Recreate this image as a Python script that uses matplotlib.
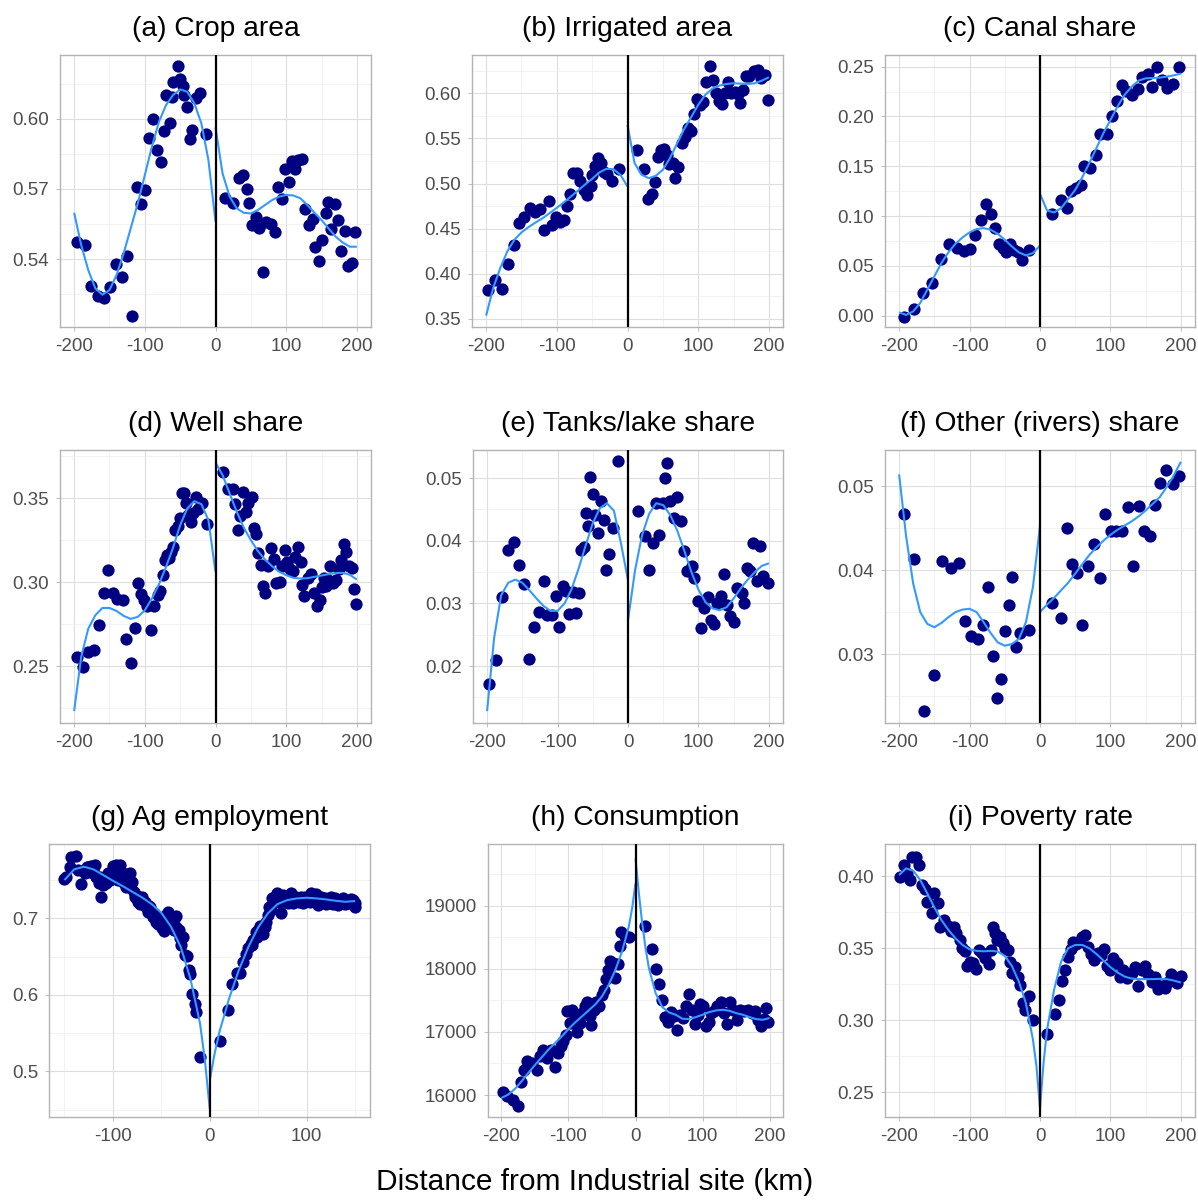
import matplotlib
matplotlib.use("Agg")
import matplotlib.pyplot as plt
import numpy as np

plt.rcParams['font.family'] = ['Liberation Sans', 'DejaVu Sans']

# ---------------- data ----------------
fit_xl = [-200, -190, -180, -170, -160, -150, -140, -130, -120, -110, -100,
          -90, -80, -70, -60, -50, -40, -30, -20, -10, 0]
fit_xr = [0, 10, 20, 30, 40, 50, 60, 70, 80, 90, 100,
          110, 120, 130, 140, 150, 160, 170, 180, 190, 200]

# (a) Crop area
a_x = [-195.3, -184, -176.5, -166.6, -157.2, -149.2, -140.7, -132.2, -125.6, -118.1,
       -111.5, -104.9, -99.3, -94.1, -88, -82.8, -77.6, -72.9, -69.6, -64.5,
       -61.2, -59.8, -53.6, -49.9, -46.1, -44.2, -40, -36.7, -32.9, -27.8,
       -22.1, -14.1,
       14.1, 24.5, 32.9, 38.6, 44.2, 48, 52.2, 56.9, 61.6, 67.8,
       72, 78.1, 83.8, 88, 93.6, 98.4, 104, 108.2, 112.5, 116.7,
       122.8, 127.1, 132.2, 137.4, 140.7, 146.4, 150.6, 156.2, 159.1, 163.8,
       169, 173.2, 177.4, 182.6, 187.3, 192.5, 197.6]
a_y = [0.5473, 0.546, 0.5285, 0.5242, 0.5236, 0.5279, 0.5379, 0.5323, 0.5412, 0.5155,
       0.5708, 0.5635, 0.5695, 0.5917, 0.5999, 0.5866, 0.5816, 0.5947, 0.610, 0.5981,
       0.6091, 0.6157, 0.6224, 0.6168, 0.6141, 0.610, 0.6051, 0.5913, 0.595, 0.6087,
       0.6108, 0.5933,
       0.5661, 0.5638, 0.5748, 0.5759, 0.570, 0.5638, 0.5544, 0.558, 0.5534, 0.5343,
       0.5557, 0.5548, 0.5514, 0.5706, 0.5658, 0.5783, 0.5729, 0.582, 0.5783, 0.5823,
       0.5826, 0.5614, 0.5545, 0.557, 0.5451, 0.5394, 0.548, 0.5595, 0.5642, 0.5528,
       0.5634, 0.5566, 0.5436, 0.552, 0.537, 0.5384, 0.5517]
a_fit_l = [0.5598, 0.546, 0.5353, 0.5275, 0.5248, 0.5268, 0.5332, 0.5424, 0.5531, 0.5638,
           0.5759, 0.588, 0.5987, 0.6058, 0.6101, 0.6125, 0.6115, 0.6066, 0.598, 0.5823, 0.556]
a_fit_r = [0.5963, 0.5766, 0.5667, 0.5617, 0.5598, 0.5595, 0.561, 0.5631, 0.5652, 0.5667,
           0.5674, 0.5672, 0.566, 0.5631, 0.5598, 0.5567, 0.5531, 0.5496, 0.5471, 0.5453, 0.5453]

# (b) Irrigated area
b_x = [-197.2, -187.2, -178.2, -169.7, -160.7, -153.6, -146, -138.5, -130.9, -124.3,
       -117.6, -111, -106.3, -101.1, -94.9, -89.2, -85, -80.7, -76.4, -71.2,
       -67.9, -62.2, -57, -52.3, -50.9, -46.2, -41.9, -38.1, -33.8, -28.6,
       -21.5, -12.5,
       14, 23.9, 29.6, 35.3, 39.5, 43.8, 48, 52.3, 55.6, 59.4,
       63.7, 67, 71.7, 76.5, 80.7, 85, 90.2, 93.5, 98.2, 102.5,
       106.7, 111.5, 116.7, 120.5, 125.2, 129, 133.7, 138.5, 142.7, 147,
       151.7, 156.5, 159.3, 163.6, 167.3, 172.5, 178.7, 185.3, 189.1, 194.3,
       199]
b_y = [0.3825, 0.3935, 0.3836, 0.4108, 0.4315, 0.4562, 0.4625, 0.4724, 0.468, 0.4717,
       0.4481, 0.4802, 0.4543, 0.4628, 0.4573, 0.4599, 0.4746, 0.4886, 0.5122, 0.5122,
       0.5023, 0.4931, 0.4875, 0.4978, 0.5097, 0.5196, 0.5281, 0.5233, 0.5133, 0.5104,
       0.5023, 0.5159,
       0.5369, 0.5156, 0.4831, 0.4886, 0.5012, 0.5299, 0.5373, 0.5388, 0.5318, 0.5218,
       0.5233, 0.506, 0.5181, 0.5447, 0.5513, 0.5613, 0.5587, 0.5771, 0.5941, 0.5871,
       0.5908, 0.6125, 0.6302, 0.6147, 0.60, 0.5915, 0.5878, 0.60, 0.6129, 0.60,
       0.6011, 0.5993, 0.5889, 0.6037, 0.6192, 0.6192, 0.6251, 0.6258, 0.6166, 0.6203,
       0.5926]
b_fit_l = [0.3537, 0.3843, 0.4064, 0.4249, 0.4378, 0.4459, 0.4518, 0.4569, 0.4617, 0.4673,
           0.4732, 0.4791, 0.4857, 0.4923, 0.499, 0.5052, 0.5122, 0.5163, 0.5159, 0.5097, 0.4967]
b_fit_r = [0.565, 0.5226, 0.5097, 0.506, 0.5086, 0.5152, 0.5281, 0.544, 0.5602, 0.5735,
           0.5871, 0.5982, 0.6052, 0.6085, 0.6103, 0.6111, 0.6107, 0.6103, 0.6111, 0.614, 0.6177]

# (c) Canal share
c_x = [-192.9, -179.2, -166, -152.8, -141, -129.2, -118.3, -108.4, -99.4, -92.3,
       -84.3, -76.7, -70.1, -63.5, -58.3, -52.7, -48.4, -43.2, -37.1, -30.9,
       -26.2, -15.8,
       16.8, 29.5, 38, 43.7, 51.2, 58.3, 63, 71.6, 79.1, 85.2,
       95.2, 102.2, 108.9, 116, 122.5, 130.1, 138.6, 144.3, 152.8, 159.4,
       166.5, 172.6, 179.7, 188.2, 197.2]
c_y = [-0.001, 0.0067, 0.0227, 0.0328, 0.0571, 0.0719, 0.0675, 0.0645, 0.0672, 0.0812,
       0.0959, 0.1116, 0.1019, 0.0879, 0.0722, 0.0678, 0.0638, 0.0715, 0.0662, 0.0638,
       0.0562, 0.0662,
       0.1023, 0.1163, 0.108, 0.1247, 0.128, 0.1307, 0.1507, 0.1487, 0.1614, 0.1825,
       0.1825, 0.2005, 0.2159, 0.2313, 0.2259, 0.2216, 0.2276, 0.24, 0.2423, 0.2299,
       0.2493, 0.2366, 0.2289, 0.2326, 0.25]
c_fit_l = [0.0033, 0.0007, 0.0043, 0.0127, 0.0261, 0.0394, 0.0528, 0.0635, 0.0722, 0.0785,
           0.0836, 0.0869, 0.0879, 0.0862, 0.0822, 0.0762, 0.0695, 0.0635, 0.0605, 0.0628, 0.0702]
c_fit_r = [0.1223, 0.1056, 0.1036, 0.108, 0.117, 0.1263, 0.139, 0.1531, 0.1681, 0.1832,
           0.1965, 0.2099, 0.2216, 0.2299, 0.236, 0.2383, 0.2386, 0.239, 0.24, 0.2413, 0.243]

# (d) Well share
d_x = [-196.2, -187.3, -179.8, -171.8, -165.2, -158.1, -152, -144.5, -138.8, -131.3,
       -126.1, -120, -114.4, -110.1, -104.9, -100.7, -96.9, -91.8, -87, -81.4,
       -78.1, -74.8, -72, -68.2, -65.4, -62.6, -59.8, -57, -53.2, -50.4,
       -47.5, -44.2, -41.9, -38.6, -35.3, -31.5, -28.2, -24.9, -19.3, -12.7,
       10.8, 17.9, 24.9, 28.2, 32.5, 35.3, 39.5, 43.8, 46.6, 51.3,
       54.1, 57, 60.2, 64, 67.3, 70.6, 74.8, 78.6, 82.4, 86.1,
       90.8, 94.6, 97.9, 101.2, 104.9, 109.2, 112.9, 116.2, 120.5, 122.8,
       125.2, 130.4, 135.1, 139.8, 144, 147.3, 150.1, 153.9, 156.7, 159.5,
       162.4, 166.1, 169.9, 174.6, 177.4, 181.2, 184.9, 188.7, 192.5, 195.3,
       198.1]
d_y = [0.2556, 0.2496, 0.2583, 0.2595, 0.2748, 0.2933, 0.3073, 0.2937, 0.2903, 0.2897,
       0.2663, 0.252, 0.273, 0.2996, 0.2931, 0.2893, 0.2857, 0.2718, 0.2859, 0.2923,
       0.2948, 0.3042, 0.3135, 0.3161, 0.3141, 0.3179, 0.321, 0.3313, 0.3333, 0.3383,
       0.3532, 0.3532, 0.3468, 0.3399, 0.3359, 0.3413, 0.3504, 0.3438, 0.3472, 0.3345,
       0.3653, 0.3552, 0.3556, 0.3462, 0.3313, 0.3393, 0.3538, 0.3419, 0.3468, 0.3504,
       0.3325, 0.3286, 0.3171, 0.3101, 0.2978, 0.2937, 0.3095, 0.3206, 0.3139, 0.2996,
       0.3002, 0.3095, 0.319, 0.3119, 0.3081, 0.3067, 0.3151, 0.321, 0.3121, 0.2982,
       0.2919, 0.3026, 0.3048, 0.2933, 0.2857, 0.2897, 0.2972, 0.3028, 0.2976, 0.3012,
       0.3095, 0.2996, 0.3012, 0.3081, 0.3135, 0.3226, 0.3181, 0.3095, 0.3087, 0.2962,
       0.2873]
d_fit_l = [0.2234, 0.2556, 0.2724, 0.2804, 0.2847, 0.2847, 0.2829, 0.28, 0.2782, 0.2794,
           0.2833, 0.2903, 0.2988, 0.3091, 0.3206, 0.3339, 0.3438, 0.3482, 0.3464, 0.3369, 0.3061]
d_fit_r = [0.3712, 0.3637, 0.3528, 0.3419, 0.3325, 0.325, 0.3185, 0.3135, 0.3095, 0.3062,
           0.3042, 0.3026, 0.3022, 0.3024, 0.3032, 0.304, 0.3048, 0.3054, 0.3056, 0.3044, 0.3016]

# (e) Tanks/lake share
e_x = [-196.7, -186.8, -179.2, -170.7, -162.2, -155.1, -147.6, -140.5, -133.9, -126.3,
       -119.7, -114.5, -107.4, -102.7, -97.5, -92.8, -88.5, -83.8, -78.6, -74.4,
       -70.1, -66.8, -63, -59.7, -56.4, -53.6, -50.3, -47, -42.3, -38,
       -34.2, -30.9, -26.7, -22, -13.5,
       13.5, 23.9, 30.5, 35.7, 40, 44.7, 49, 52.3, 55.6, 60.3,
       65, 70.2, 75.4, 80.1, 84.3, 90.5, 94.2, 98.9, 103.7, 108.4,
       114, 117.3, 122.6, 126.8, 131.5, 136.2, 140.9, 145.2, 150.4, 155.1,
       161.3, 164.6, 168.4, 173.1, 177.8, 182.5, 187.3, 192, 198.1]
e_y = [0.0172, 0.0209, 0.031, 0.0386, 0.0398, 0.0362, 0.0331, 0.0212, 0.0262, 0.0286,
       0.0336, 0.0281, 0.0281, 0.0312, 0.0262, 0.0328, 0.032, 0.0283, 0.0318, 0.0285,
       0.0317, 0.0385, 0.039, 0.0444, 0.0424, 0.0502, 0.0475, 0.0441, 0.0413, 0.0464,
       0.0434, 0.0353, 0.0379, 0.0421, 0.0527,
       0.0448, 0.0408, 0.0353, 0.0396, 0.046, 0.0409, 0.046, 0.05, 0.0525, 0.0463,
       0.0436, 0.047, 0.0431, 0.0384, 0.0352, 0.0359, 0.0341, 0.0304, 0.0261, 0.0292,
       0.031, 0.0273, 0.0267, 0.03, 0.0312, 0.0347, 0.0297, 0.028, 0.027, 0.0324,
       0.0317, 0.0301, 0.0356, 0.0352, 0.0396, 0.0335, 0.0391, 0.0343, 0.0332]
e_fit_l = [0.0128, 0.0245, 0.0313, 0.0333, 0.0338, 0.0333, 0.0321, 0.0308, 0.0296, 0.0288,
           0.0288, 0.03, 0.0323, 0.0356, 0.0393, 0.0428, 0.0452, 0.046, 0.0448, 0.0396, 0.0337]
e_fit_r = [0.0273, 0.0353, 0.0409, 0.0443, 0.046, 0.0457, 0.0441, 0.0416, 0.0384, 0.035,
           0.0322, 0.0302, 0.0292, 0.0289, 0.0294, 0.0308, 0.0324, 0.0338, 0.035, 0.036, 0.0364]

# (f) Other (rivers) share
f_x = [-192.4, -178.3, -164.1, -150.9, -138.6, -126.8, -115.5, -106, -97.5, -88.5,
       -81, -73.4, -66.8, -61.2, -55.5, -49.8, -44.6, -39.4, -33.8, -28.1,
       -15.8,
       17.2, 30.5, 39, 46, 52.6, 59.7, 68.2, 76.7, 84.8, 92.8,
       100.3, 107.9, 116.4, 124.9, 132, 140.5, 147.6, 156.1, 163.6, 170.7,
       179.2, 188.2, 196.7]
f_y = [0.0467, 0.0413, 0.0232, 0.0275, 0.0411, 0.0403, 0.0408, 0.034, 0.0321, 0.0318,
       0.0335, 0.038, 0.0298, 0.0248, 0.027, 0.0328, 0.0359, 0.0392, 0.0308, 0.0325,
       0.0329,
       0.0361, 0.0343, 0.045, 0.0407, 0.0397, 0.0335, 0.0405, 0.0431, 0.0391, 0.0467,
       0.0446, 0.0447, 0.0447, 0.0475, 0.0405, 0.0476, 0.0446, 0.0441, 0.0478, 0.0504,
       0.0519, 0.0502, 0.0512]
f_fit_l = [0.0514, 0.044, 0.0384, 0.035, 0.0336, 0.0332, 0.0337, 0.0344, 0.035, 0.0353,
           0.0354, 0.035, 0.0338, 0.0325, 0.0314, 0.031, 0.0312, 0.0318, 0.0338, 0.038, 0.0453]
f_fit_r = [0.035, 0.0359, 0.0367, 0.0376, 0.0385, 0.0396, 0.0407, 0.0418, 0.0427, 0.0435,
           0.0442, 0.0448, 0.0453, 0.0458, 0.0464, 0.0471, 0.0479, 0.0487, 0.0499, 0.0513, 0.0529]

# (g) Ag employment
g_x = [-150, -148.3, -144.8, -143.1, -138.6, -136.2, -132.8, -129.3, -125.9, -122.4,
       -120, -117.2, -114.5, -112.1, -110.3, -107.6, -105.2, -102.4, -100, -97.2,
       -95.9, -93.8, -91.4, -89, -86.2, -82.8, -81, -78.6, -76.6, -74.1,
       -72.4, -69.7, -67.2, -65.5, -62.8, -60.3, -57.9, -55.9, -53.4, -51.7,
       -49, -46.9, -44.8, -42.8, -40.7, -38.6, -36.6, -34.5, -33.1, -31,
       -29.3, -27.6, -25.9, -23.4, -21.4, -20, -17.9, -15.5, -13.8, -9.7,
       -126.9, -124.1, -119, -113.8, -106.9, -103.4, -98.3, -94.8, -92.4, -89.7,
       -86.9, -84.5, -80, -77.6, -75.2, -73.1, -70.7, -68.3, -63.8, -61.4,
       -58.6, -54.5, -50, -47.6, -45.5, -42.1, -39.7, -37.2, -35.2, -31.7,
       10.3, 19, 23.4, 28.3, 31.7, 34.5, 37.2, 39.7, 42.1, 44.8,
       47.6, 50, 52.4, 55.2, 57.6, 60.3, 62.8, 64.8, 67.2, 69.7,
       71.7, 74.1, 75.9, 78.6, 81, 83.4, 86.2, 89, 91.4, 93.8,
       96.6, 99.3, 101.7, 104.1, 106.9, 109.7, 112.1, 114.5, 117.2, 120,
       122.4, 124.8, 127.6, 130.3, 132.8, 135.2, 137.9, 140.7, 143.1, 145.5,
       148.3, 150,
       61.4, 66.2, 73.1, 77.6, 82.1, 87.9, 92.4, 98.3, 103.4, 108.6,
       113.8, 119, 124.1, 129.3, 133.8, 139.7, 144.8, 150, 44.1, 49,
       53.4, 56.9]
g_y = [0.752, 0.7546, 0.7668, 0.7808, 0.7821, 0.7633, 0.745, 0.7598, 0.7677, 0.7686,
       0.759, 0.7537, 0.7459, 0.7284, 0.7437, 0.7511, 0.7598, 0.7524, 0.7686, 0.7699,
       0.7568, 0.7633, 0.7511, 0.7467, 0.7406, 0.759, 0.7393, 0.7349, 0.7306, 0.7218,
       0.7188, 0.7284, 0.7218, 0.7153, 0.7162, 0.7109, 0.7066, 0.6956, 0.6926, 0.6987,
       0.6869, 0.6838, 0.6956, 0.7087, 0.7031, 0.6934, 0.6987, 0.6891, 0.6825, 0.6738,
       0.6651, 0.6751, 0.652, 0.6507, 0.6323, 0.6271, 0.6017, 0.5886, 0.5777, 0.5188,
       0.7668, 0.7611, 0.7699, 0.7546, 0.7459, 0.7502, 0.759, 0.7502, 0.7699, 0.759,
       0.7502, 0.7459, 0.748, 0.7284, 0.7262, 0.7284, 0.724, 0.7175, 0.7087, 0.7144,
       0.7013, 0.6978, 0.6934, 0.6913, 0.7044, 0.6978, 0.6891, 0.6847, 0.7031, 0.6847,
       0.5397, 0.5808, 0.614, 0.6288, 0.6288, 0.6432, 0.6533, 0.6607, 0.6672, 0.6716,
       0.6825, 0.6847, 0.69, 0.6795, 0.6956, 0.7044, 0.7109, 0.7262, 0.7284, 0.7328,
       0.7218, 0.7074, 0.7306, 0.7218, 0.7197, 0.7336, 0.7205, 0.7284, 0.7262, 0.7284,
       0.7205, 0.724, 0.7262, 0.7328, 0.7231, 0.7319, 0.7175, 0.7284, 0.7218, 0.7188,
       0.724, 0.7284, 0.7188, 0.7218, 0.7175, 0.7218, 0.7262, 0.7197, 0.7205, 0.7249,
       0.724, 0.7153,
       0.7153, 0.7218, 0.7284, 0.7249, 0.7284, 0.7231, 0.7218, 0.7284, 0.7218, 0.7262,
       0.7231, 0.7262, 0.7197, 0.7262, 0.7231, 0.7188, 0.7197, 0.7205, 0.6651, 0.676,
       0.6847, 0.6891]
g_fit_xl = [-150, -140, -130, -120, -110, -100, -90, -80, -70, -60, -50, -40, -30, -20, -10, -5, 0]
g_fit_l = [0.7502, 0.7642, 0.7677, 0.7642, 0.7568, 0.7493, 0.7424, 0.7349, 0.7275, 0.7188,
           0.7074, 0.6891, 0.6629, 0.6214, 0.5624, 0.5144, 0.4511]
g_fit_xr = [0, 5, 10, 20, 30, 40, 50, 60, 70, 80, 90, 100, 110, 120, 130, 140, 150]
g_fit_r = [0.4882, 0.5231, 0.5515, 0.5952, 0.6323, 0.6629, 0.6882, 0.7066, 0.7188, 0.724,
           0.7262, 0.7271, 0.7262, 0.7249, 0.7231, 0.7218, 0.7227]

# (h) Consumption
h_x = [-197.5, -191.5, -182.6, -175.6, -170.6, -166.1, -161.1, -153.7, -147.2, -142.7,
       -137.7, -131.8, -126.3, -119.6, -115.6, -110.6, -108.1, -104.1, -101.6, -98.1,
       -94.1, -90.7, -87.2, -83.2, -79.2, -75.2, -71.7, -68.2, -65.8, -62.3,
       -58.3, -54.3, -50.3, -46.3, -43.3, -40.3, -37.4, -33.4, -30.9, -25.9,
       -23.4, -20.9, -15.9, -9.5,
       13.9, 23.9, 29.9, 35.4, 39.4, 43.8, 47.8, 52.3, 57.3, 61.3,
       66.3, 71.2, 74.7, 79.2, 84.2, 88.2, 92.7, 96.2, 100.2, 104.6,
       109.1, 112.6, 117.1, 122.1, 127, 132, 136, 141, 146, 152,
       155.9, 161.9, 167.4, 173.4, 178.8, 183.3, 187.3, 191.8, 194.8, 198.3]
h_y = [16053, 15990, 15926, 15832, 16206, 16390, 16543, 16506, 16401, 16612,
       16707, 16585, 16717, 16438, 16664, 16770, 16860, 16955, 17323, 17139,
       17350, 17218, 16991, 17139, 17297, 17413, 17466, 17244, 17113, 17350,
       17466, 17413, 17587, 17666, 17840, 17983, 18130, 18098, 17851, 18072,
       18352, 18589, 18520, 18499,
       18678, 18309, 17993, 17761, 17497, 17229, 17149, 17308, 17244, 17033,
       17271, 17218, 17413, 17603, 17350, 17128, 17271, 17440, 17403, 17086,
       17149, 17297, 17323, 17403, 17466, 17297, 17128, 17466, 17350, 17192,
       17350, 17323, 17350, 17297, 17323, 17192, 17097, 17202, 17376, 17149]
h_fit_xl = [-200, -190, -180, -170, -160, -150, -140, -130, -120, -110, -100,
            -90, -80, -70, -60, -50, -40, -30, -20, -10, -5, 0]
h_fit_l = [15953, 16006, 16095, 16216, 16348, 16475, 16596, 16717, 16823, 16928, 17044,
           17150, 17244, 17339, 17434, 17561, 17745, 17983, 18272, 18668, 18958, 19353]
h_fit_xr = [0, 5, 10, 15, 20, 30, 40, 50, 60, 70, 80, 90, 100,
            110, 120, 130, 140, 150, 160, 170, 180, 190, 200]
h_fit_r = [19749, 19195, 18721, 18325, 18009, 17613, 17392, 17308, 17271, 17208, 17202, 17234, 17271,
           17313, 17339, 17350, 17334, 17297, 17271, 17234, 17202, 17192, 17218]

# (i) Poverty rate
i_x = [-199, -193.4, -188.7, -184.9, -181.1, -175.9, -171.2, -167.9, -162.7, -160.3,
       -153.7, -149.9, -145.2, -141.5, -135.8, -131.1, -126.4, -122.6, -118.8, -114.1,
       -110.3, -106.6, -103.8, -100, -95.3, -90.6, -86.8, -82.1, -77.4, -72.6,
       -69.8, -67, -63.7, -60.4, -56.7, -52.9, -49.2, -44.9, -42.6, -40.2,
       -35.5, -31.7, -28.4, -24.6, -21.8, -15.2, -9.6,
       10.6, 21, 26.6, 31.4, 35.6, 39.4, 43.7, 47.5, 51.2, 55,
       59.7, 64, 68.2, 72.5, 76.7, 81.9, 86.6, 91.3, 94.6, 99.4,
       104.1, 108.8, 113.5, 118.2, 123.9, 130, 134.8, 139.5, 144.2, 148.9,
       153.7, 158.4, 163.1, 167.8, 172.6, 177.3, 182, 185.3, 190.1, 194.8,
       199.5]
i_y = [0.3995, 0.4074, 0.4018, 0.3972, 0.4134, 0.4134, 0.4078, 0.3938, 0.3908, 0.3822,
       0.3742, 0.388, 0.3811, 0.3649, 0.3695, 0.3654, 0.3622, 0.3649, 0.3603, 0.3557,
       0.3499, 0.3483, 0.3377, 0.3407, 0.34, 0.3354, 0.3488, 0.3465, 0.343, 0.3391,
       0.3488, 0.3645, 0.3603, 0.3557, 0.3575, 0.3534, 0.3499, 0.3488, 0.3407, 0.3326,
       0.3372, 0.3303, 0.3245, 0.3118, 0.3072, 0.3165, 0.3003,
       0.2906, 0.3045, 0.3137, 0.3275, 0.3349, 0.3437, 0.3492, 0.3545, 0.353, 0.3545,
       0.3575, 0.3592, 0.3506, 0.346, 0.3418, 0.3469, 0.3453, 0.3492, 0.3377, 0.3349,
       0.343, 0.3395, 0.3303, 0.3349, 0.3291, 0.3326, 0.3368, 0.3238, 0.3349, 0.3377,
       0.3321, 0.3268, 0.3303, 0.3215, 0.3238, 0.3222, 0.3268, 0.3321, 0.3285, 0.3257,
       0.3308]
i_fit_xl = [-200, -190, -180, -170, -160, -150, -140, -130, -120, -110, -100,
            -90, -80, -70, -60, -50, -40, -30, -20, -10, -5, 0]
i_fit_l = [0.4007, 0.4053, 0.4037, 0.3972, 0.388, 0.3783, 0.3695, 0.3626, 0.3568, 0.3522, 0.3492,
           0.3481, 0.3478, 0.3481, 0.3476, 0.3446, 0.3377, 0.3268, 0.3118, 0.2865, 0.268, 0.2391]
i_fit_xr = [0, 5, 10, 20, 30, 40, 50, 60, 70, 80, 90, 100,
            110, 120, 130, 140, 150, 160, 170, 180, 190, 200]
i_fit_r = [0.2391, 0.2703, 0.2934, 0.3211, 0.3407, 0.3499, 0.3522, 0.3522, 0.3499, 0.346, 0.3414, 0.3368,
           0.3331, 0.3303, 0.3289, 0.3285, 0.3285, 0.3285, 0.3287, 0.3285, 0.3275, 0.3261]

# ---------------- layout ----------------
W, H = 1198, 1203
POINT = '#000080'
FIT = '#3399FF'
GRID = '#DEDEDE'
BORDER = '#B3B3B3'
TEXT = '#4D4D4D'


def box(l, t, r, b):
    return [l / W, 1 - b / H, (r - l) / W, (b - t) / H]


def halfsteps(ticks):
    step = ticks[1] - ticks[0]
    return [t - step / 2 for t in ticks] + [ticks[-1] + step / 2]


def draw_panel(ax, title, xs, ys, fxl, fyl, fxr, fyr, yticks, ylim, fmt,
               xticks=(-200, -100, 0, 100, 200), xlim=(-220, 220)):
    ax.scatter(xs, ys, s=78, color=POINT, linewidths=0, zorder=2)
    ax.plot(fxl, fyl, color=FIT, lw=1.5, zorder=3, solid_capstyle='butt')
    ax.plot(fxr, fyr, color=FIT, lw=1.5, zorder=3, solid_capstyle='butt')
    ax.axvline(0, color='black', lw=1.6, zorder=4)

    ax.set_xticks(list(xticks))
    ax.set_xticklabels([str(t) for t in xticks])
    ax.set_yticks(yticks)
    ax.set_yticklabels([fmt.format(t) for t in yticks])
    ax.set_xticks(halfsteps(list(xticks)), minor=True)
    ax.set_yticks(halfsteps(yticks), minor=True)
    # limits after the ticks, otherwise the tick setters widen the view
    ax.set_xlim(*xlim)
    ax.set_ylim(*ylim)

    ax.grid(True, which='major', color=GRID, lw=0.8)
    ax.grid(True, which='minor', color='#EDEDED', lw=0.5)
    ax.set_axisbelow(True)

    ax.tick_params(which='major', length=2.8, width=0.6, color=BORDER,
                   labelcolor=TEXT, labelsize=13.5, pad=5)
    ax.tick_params(which='minor', length=0)
    for sp in ax.spines.values():
        sp.set_color(BORDER)
        sp.set_linewidth(1.0)
    ax.set_title(title, fontsize=20.3, pad=13.5)


fig = plt.figure(figsize=(W / 100, H / 100), dpi=100)

ax = fig.add_axes(box(60, 55, 371, 327))
draw_panel(ax, '(a) Crop area', a_x, a_y, fit_xl, a_fit_l, fit_xr, a_fit_r,
           [0.54, 0.57, 0.60], (0.511, 0.6272), '{:.2f}')

ax = fig.add_axes(box(472, 55, 783, 327))
draw_panel(ax, '(b) Irrigated area', b_x, b_y, fit_xl, b_fit_l, fit_xr, b_fit_r,
           [0.35, 0.40, 0.45, 0.50, 0.55, 0.60], (0.3411, 0.6424), '{:.2f}')

ax = fig.add_axes(box(885, 55, 1195, 327))
draw_panel(ax, '(c) Canal share', c_x, c_y, fit_xl, c_fit_l, fit_xr, c_fit_r,
           [0.00, 0.05, 0.10, 0.15, 0.20, 0.25], (-0.0114, 0.2617), '{:.2f}')

ax = fig.add_axes(box(60, 450, 371, 723))
draw_panel(ax, '(d) Well share', d_x, d_y, fit_xl, d_fit_l, fit_xr, d_fit_r,
           [0.25, 0.30, 0.35], (0.2163, 0.3786), '{:.2f}')

ax = fig.add_axes(box(473, 450, 783, 723))
draw_panel(ax, '(e) Tanks/lake share', e_x, e_y, fit_xl, e_fit_l, fit_xr, e_fit_r,
           [0.02, 0.03, 0.04, 0.05], (0.0109, 0.0545), '{:.2f}')

ax = fig.add_axes(box(885, 450, 1195, 723))
draw_panel(ax, '(f) Other (rivers) share', f_x, f_y, fit_xl, f_fit_l, fit_xr, f_fit_r,
           [0.03, 0.04, 0.05], (0.0218, 0.0543), '{:.2f}')

ax = fig.add_axes(box(49, 844, 370, 1117))
draw_panel(ax, '(g) Ag employment', g_x, g_y, g_fit_xl, g_fit_l, g_fit_xr, g_fit_r,
           [0.5, 0.6, 0.7], (0.4402, 0.7974), '{:.1f}',
           xticks=(-100, 0, 100), xlim=(-166, 165.5))

ax = fig.add_axes(box(488, 844, 783, 1117))
draw_panel(ax, '(h) Consumption', h_x, h_y, h_fit_xl, h_fit_l, h_fit_xr, h_fit_r,
           [16000, 17000, 18000, 19000], (15652, 19975), '{:.0f}')

ax = fig.add_axes(box(885, 844, 1195, 1117))
draw_panel(ax, '(i) Poverty rate', i_x, i_y, i_fit_xl, i_fit_l, i_fit_xr, i_fit_r,
           [0.25, 0.30, 0.35, 0.40], (0.2329, 0.4222), '{:.2f}')

fig.text(595 / W, 1 - 1190 / H, 'Distance from Industrial site (km)',
         ha='center', va='baseline', fontsize=21.5)

fig.savefig('out.png', dpi=100)
